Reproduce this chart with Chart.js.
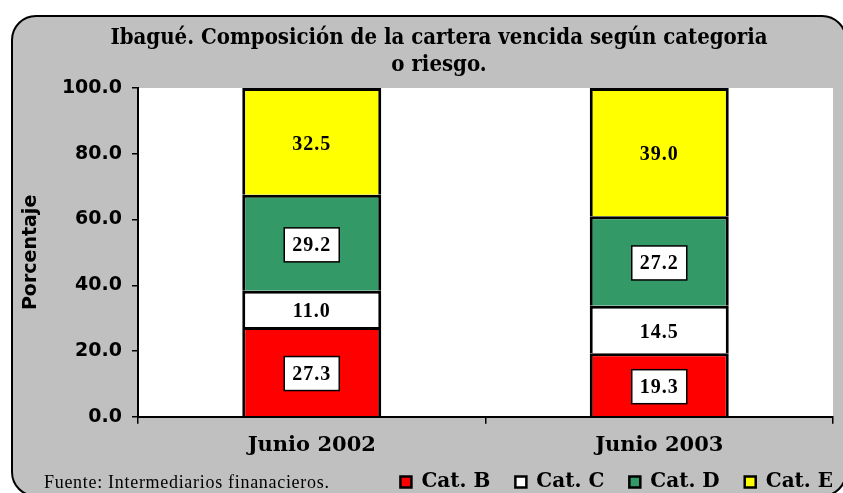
<!DOCTYPE html>
<html>
<head>
<meta charset="utf-8">
<script src="https://cdn.jsdelivr.net/npm/chart.js@4"></script>
<style>
  html, body { margin: 0; padding: 0; background: #ffffff; overflow: hidden; }
  canvas { display: block; }
</style>
</head>
<body>
<canvas id="cartera" width="843" height="493"></canvas>
<script>
// Datos del gráfico
const periodos = ['Junio 2002', 'Junio 2003'];
const catB = [27.3, 19.3];
const catC = [11.0, 14.5];
const catD = [29.2, 27.2];
const catE = [32.5, 39.0];
const ticksY = [0, 20, 40, 60, 80, 100];

const tituloLineas = ['Ibagué. Composición de la cartera vencida según categoria', 'o riesgo.'];
const fuente = 'Fuente: Intermediarios finanacieros.';

const PAD_LEYENDA = 25;

// Fondo gris redondeado, título y fuente
const marco = {
  id: 'marco',
  afterLayout(chart) {
    // la leyenda va en la misma línea que la fuente
    const lg = chart.legend;
    lg.top = 447;
    lg.right = 833 + PAD_LEYENDA;
  },
  beforeDraw(chart) {
    const ctx = chart.ctx;
    const a = chart.chartArea;
    ctx.save();
    ctx.beginPath();
    ctx.roundRect(12, 16, 834, 480, 24);
    ctx.fillStyle = '#c0c0c0';
    ctx.fill();
    ctx.lineWidth = 2;
    ctx.strokeStyle = '#000';
    ctx.stroke();
    ctx.fillStyle = '#fff';
    ctx.fillRect(a.left, a.top, a.right - a.left, a.bottom - a.top);
    ctx.restore();
  },
  afterDraw(chart) {
    const ctx = chart.ctx;
    ctx.save();
    ctx.fillStyle = '#000';
    ctx.textAlign = 'center';
    ctx.textBaseline = 'middle';
    ctx.font = 'bold 22px "DejaVu Serif Condensed", "DejaVu Serif"';
    ctx.fillText(tituloLineas[0], 439, 38);
    ctx.fillText(tituloLineas[1], 439, 65);
    ctx.textAlign = 'left';
    ctx.font = '18px "Liberation Serif"';
    ctx.letterSpacing = '0.7px';
    ctx.fillText(fuente, 44, 483);
    ctx.restore();
  }
};

// Etiquetas de valores dentro de las barras
const etiquetas = {
  id: 'etiquetas',
  afterDatasetsDraw(chart) {
    const ctx = chart.ctx;
    ctx.save();
    ctx.font = 'bold 20px "Liberation Serif"';
    ctx.letterSpacing = '1px';
    ctx.textAlign = 'center';
    ctx.textBaseline = 'middle';
    chart.data.datasets.forEach((ds, i) => {
      chart.getDatasetMeta(i).data.forEach((bar, j) => {
        const y = (bar.y + bar.base) / 2 + 2;
        const txt = ds.data[j].toFixed(1);
        if (ds.conCaja) {
          const w = ctx.measureText(txt).width + 16;
          ctx.fillStyle = '#fff';
          ctx.fillRect(bar.x - w / 2, y - 17, w, 34);
          ctx.lineWidth = 1.5;
          ctx.strokeStyle = '#000';
          ctx.strokeRect(bar.x - w / 2, y - 17, w, 34);
        }
        ctx.fillStyle = '#000';
        ctx.fillText(txt, bar.x, y + 1);
      });
    });
    ctx.restore();
  }
};

const ctx = document.getElementById('cartera').getContext('2d');

new Chart(ctx, {
  type: 'bar',
  data: {
    labels: periodos,
    datasets: [
      { label: 'Cat. B', data: catB, backgroundColor: '#ff0000', conCaja: true },
      { label: 'Cat. C', data: catC, backgroundColor: '#ffffff', conCaja: false },
      { label: 'Cat. D', data: catD, backgroundColor: '#339966', conCaja: true },
      { label: 'Cat. E', data: catE, backgroundColor: '#ffff00', conCaja: false }
    ].map(d => Object.assign(d, {
      borderColor: '#000',
      borderWidth: { top: 3, left: 3, right: 3, bottom: 0 },
      borderSkipped: false,
      categoryPercentage: 0.8,
      barPercentage: 0.5
    }))
  },
  options: {
    responsive: false,
    animation: false,
    devicePixelRatio: 1,
    layout: { padding: { top: 88, left: 10, right: 10, bottom: 0 } },
    plugins: {
      title: { display: false },
      tooltip: { enabled: false },
      legend: {
        position: 'bottom',
        align: 'end',
        maxHeight: 26,
        labels: {
          color: '#000',
          boxWidth: 11,
          boxHeight: 11,
          padding: PAD_LEYENDA,
          font: { family: 'DejaVu Serif', weight: 'bold', size: 20 },
          generateLabels(chart) {
            return chart.data.datasets.map((d, i) => ({
              text: d.label,
              fillStyle: d.backgroundColor,
              strokeStyle: '#000',
              lineWidth: 2.5,
              datasetIndex: i,
              fontColor: '#000'
            }));
          }
        }
      }
    },
    scales: {
      x: {
        stacked: true,
        grid: { display: true, drawOnChartArea: false, offset: true, color: '#000', lineWidth: 1.5, tickLength: 7 },
        border: { display: true, color: '#000', width: 2 },
        ticks: { color: '#000', padding: 9, font: { family: 'DejaVu Serif', weight: 'bold', size: 21 } }
      },
      y: {
        stacked: true,
        min: 0,
        max: 100,
        afterBuildTicks(scale) { scale.ticks = ticksY.map(v => ({ value: v })); },
        afterFit(scale) { scale.width = 128; },
        grid: { display: true, drawOnChartArea: false, color: '#000', lineWidth: 1.5, tickLength: 6 },
        border: { display: true, color: '#000', width: 2 },
        ticks: {
          color: '#000',
          padding: 10,
          font: { family: 'DejaVu Sans', weight: 'bold', size: 19 },
          callback: v => v.toFixed(1)
        },
        title: {
          display: true,
          text: 'Porcentaje',
          color: '#000',
          padding: { top: 10, bottom: 0 },
          font: { family: 'DejaVu Sans', weight: 'bold', size: 19 }
        }
      }
    }
  },
  plugins: [marco, etiquetas]
});
</script>
</body>
</html>
